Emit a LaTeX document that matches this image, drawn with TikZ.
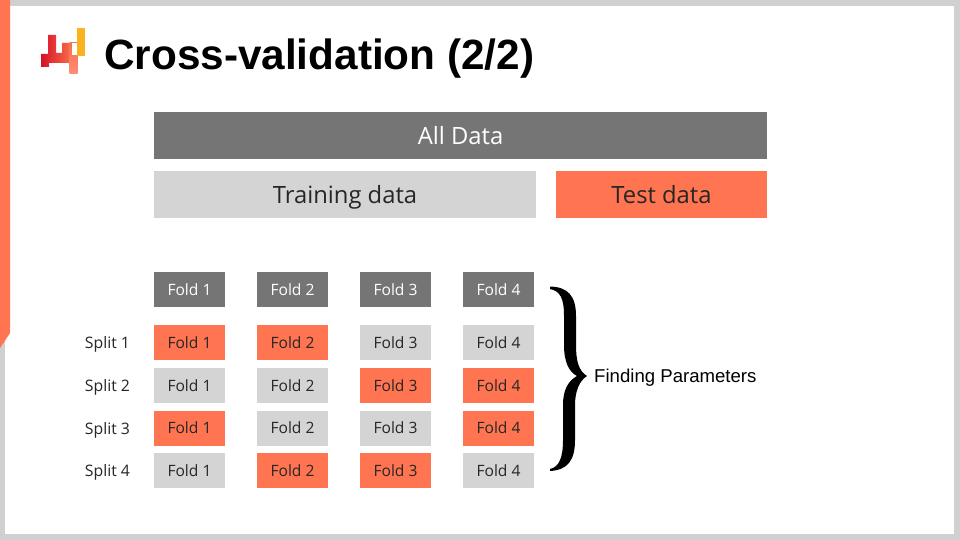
\documentclass[tikz,border=0pt]{standalone}
\usepackage{fontspec}
\setmainfont{Open Sans}
\newfontfamily\arialf{Liberation Sans}
\definecolor{frameg}{HTML}{D0D0D0}
\definecolor{coral}{HTML}{FF7552}
\definecolor{dgray}{HTML}{757575}
\definecolor{lgray}{HTML}{D4D4D4}
\definecolor{inkc}{HTML}{262626}
\definecolor{logored}{HTML}{D8102A}
\definecolor{logomid}{HTML}{F9704A}
\definecolor{logoorange}{HTML}{FBB21F}
\definecolor{logopale}{HTML}{FF8C78}
\tikzset{
  px/.style={x=1pt,y=-1pt},
  bar/.style={rectangle,inner sep=0pt,minimum height=47pt,text height=20.4pt,text depth=3.4pt,font=\fontsize{23.8}{26}\selectfont},
  fold/.style={rectangle,inner sep=0pt,minimum width=71pt,minimum height=35pt,text height=13.4pt,text depth=2.2pt,font=\fontsize{15.6}{18}\selectfont},
  fdark/.style={fold,fill=dgray,text=white},
  fcoral/.style={fold,fill=coral,text=inkc},
  flight/.style={fold,fill=lgray,text=inkc},
  splitlab/.style={inner sep=0pt,anchor=center,text=inkc,text height=13.5pt,text depth=2.3pt,font=\fontsize{15.8}{18}\selectfont}
}
\begin{document}
\begin{tikzpicture}[px]
\useasboundingbox (0,0) rectangle (960,540);
\fill[frameg] (0,0) rectangle (960,540);
\fill[white] (10,6) rectangle (954,534);
\fill[white] (5,333) rectangle (10,534);
\fill[coral] (0,0) -- (10,0) -- (10,333) -- (0,348) -- cycle;
% logo
\shade[left color=logored,right color=logomid]
 (41,54) -- (48,54) -- (48,35) -- (56,35) -- (56,53) -- (62,53) -- (62,43) -- (72,43) -- (72,63) -- (49,63) -- (49,67) -- (41,67) -- cycle;
\shade[top color=logomid,bottom color=logopale]
 (69.5,43) -- (77.5,43) -- (77.5,74) -- (69.5,74) -- cycle;
\fill[white] (72,43) rectangle (77.5,55.5);
\fill[logoorange] (76.5,28) rectangle (85,56);
\node[anchor=west,inner sep=0pt,text=black,text height=36.2pt,text depth=5.8pt,font=\arialf\bfseries\fontsize{42.3}{46}\selectfont] (title) at (104,54.5) {Cross-validation (2/2)};
\node[bar,fill=dgray,text=white,minimum width=613pt] (all) at (460.5,135.5) {\raisebox{-0.7pt}{All Data}};
\node[bar,fill=lgray,text=inkc,minimum width=382pt] (train) at (345,194.5) {Training data};
\node[bar,fill=coral,text=inkc,minimum width=211pt] (test) at (661.5,194.5) {Test data};
\node[fdark] (h1) at (189.5,289.5) {Fold 1};
\node[fdark] (h2) at (292.5,289.5) {Fold 2};
\node[fdark] (h3) at (395.5,289.5) {Fold 3};
\node[fdark] (h4) at (498.5,289.5) {Fold 4};
\node[splitlab] (s1) at (107.5,343) {Split 1};
\node[splitlab] (s2) at (107.5,386) {Split 2};
\node[splitlab] (s3) at (107.5,428.5) {Split 3};
\node[splitlab] (s4) at (107.5,471) {Split 4};
\node[fcoral] (a1) at (189.5,342.5) {Fold 1};
\node[fcoral] (a2) at (292.5,342.5) {Fold 2};
\node[flight] (a3) at (395.5,342.5) {Fold 3};
\node[flight] (a4) at (498.5,342.5) {Fold 4};
\node[flight] (b1) at (189.5,385.5) {Fold 1};
\node[flight] (b2) at (292.5,385.5) {Fold 2};
\node[fcoral] (b3) at (395.5,385.5) {Fold 3};
\node[fcoral] (b4) at (498.5,385.5) {Fold 4};
\node[fcoral] (c1) at (189.5,428) {Fold 1};
\node[flight] (c2) at (292.5,428) {Fold 2};
\node[flight] (c3) at (395.5,428) {Fold 3};
\node[fcoral] (c4) at (498.5,428) {Fold 4};
\node[flight] (d1) at (189.5,470.5) {Fold 1};
\node[fcoral] (d2) at (292.5,470.5) {Fold 2};
\node[fcoral] (d3) at (395.5,470.5) {Fold 3};
\node[flight] (d4) at (498.5,470.5) {Fold 4};
% brace
\fill[black] (550,286.5) .. controls (568,287) and (576,296) .. (576,316)
 -- (576,345) .. controls (576,362) and (579,371) .. (587,376)
 .. controls (579,381) and (575,392) .. (575,405)
 -- (575,440) .. controls (575,460) and (568,470) .. (550,471)
 -- (550,469) .. controls (559,467) and (563,458) .. (563,440)
 -- (563,405) .. controls (563,390) and (568,381) .. (577,376)
 .. controls (569,372) and (564,362) .. (564,345)
 -- (564,316) .. controls (564,298) and (560,291) .. (550,289) -- cycle;
\node[anchor=west,inner sep=0pt,text=black,text height=16pt,text depth=2.6pt,font=\arialf\fontsize{18.6}{21}\selectfont] (fp) at (594,376) {Finding Parameters};
\end{tikzpicture}
\end{document}
